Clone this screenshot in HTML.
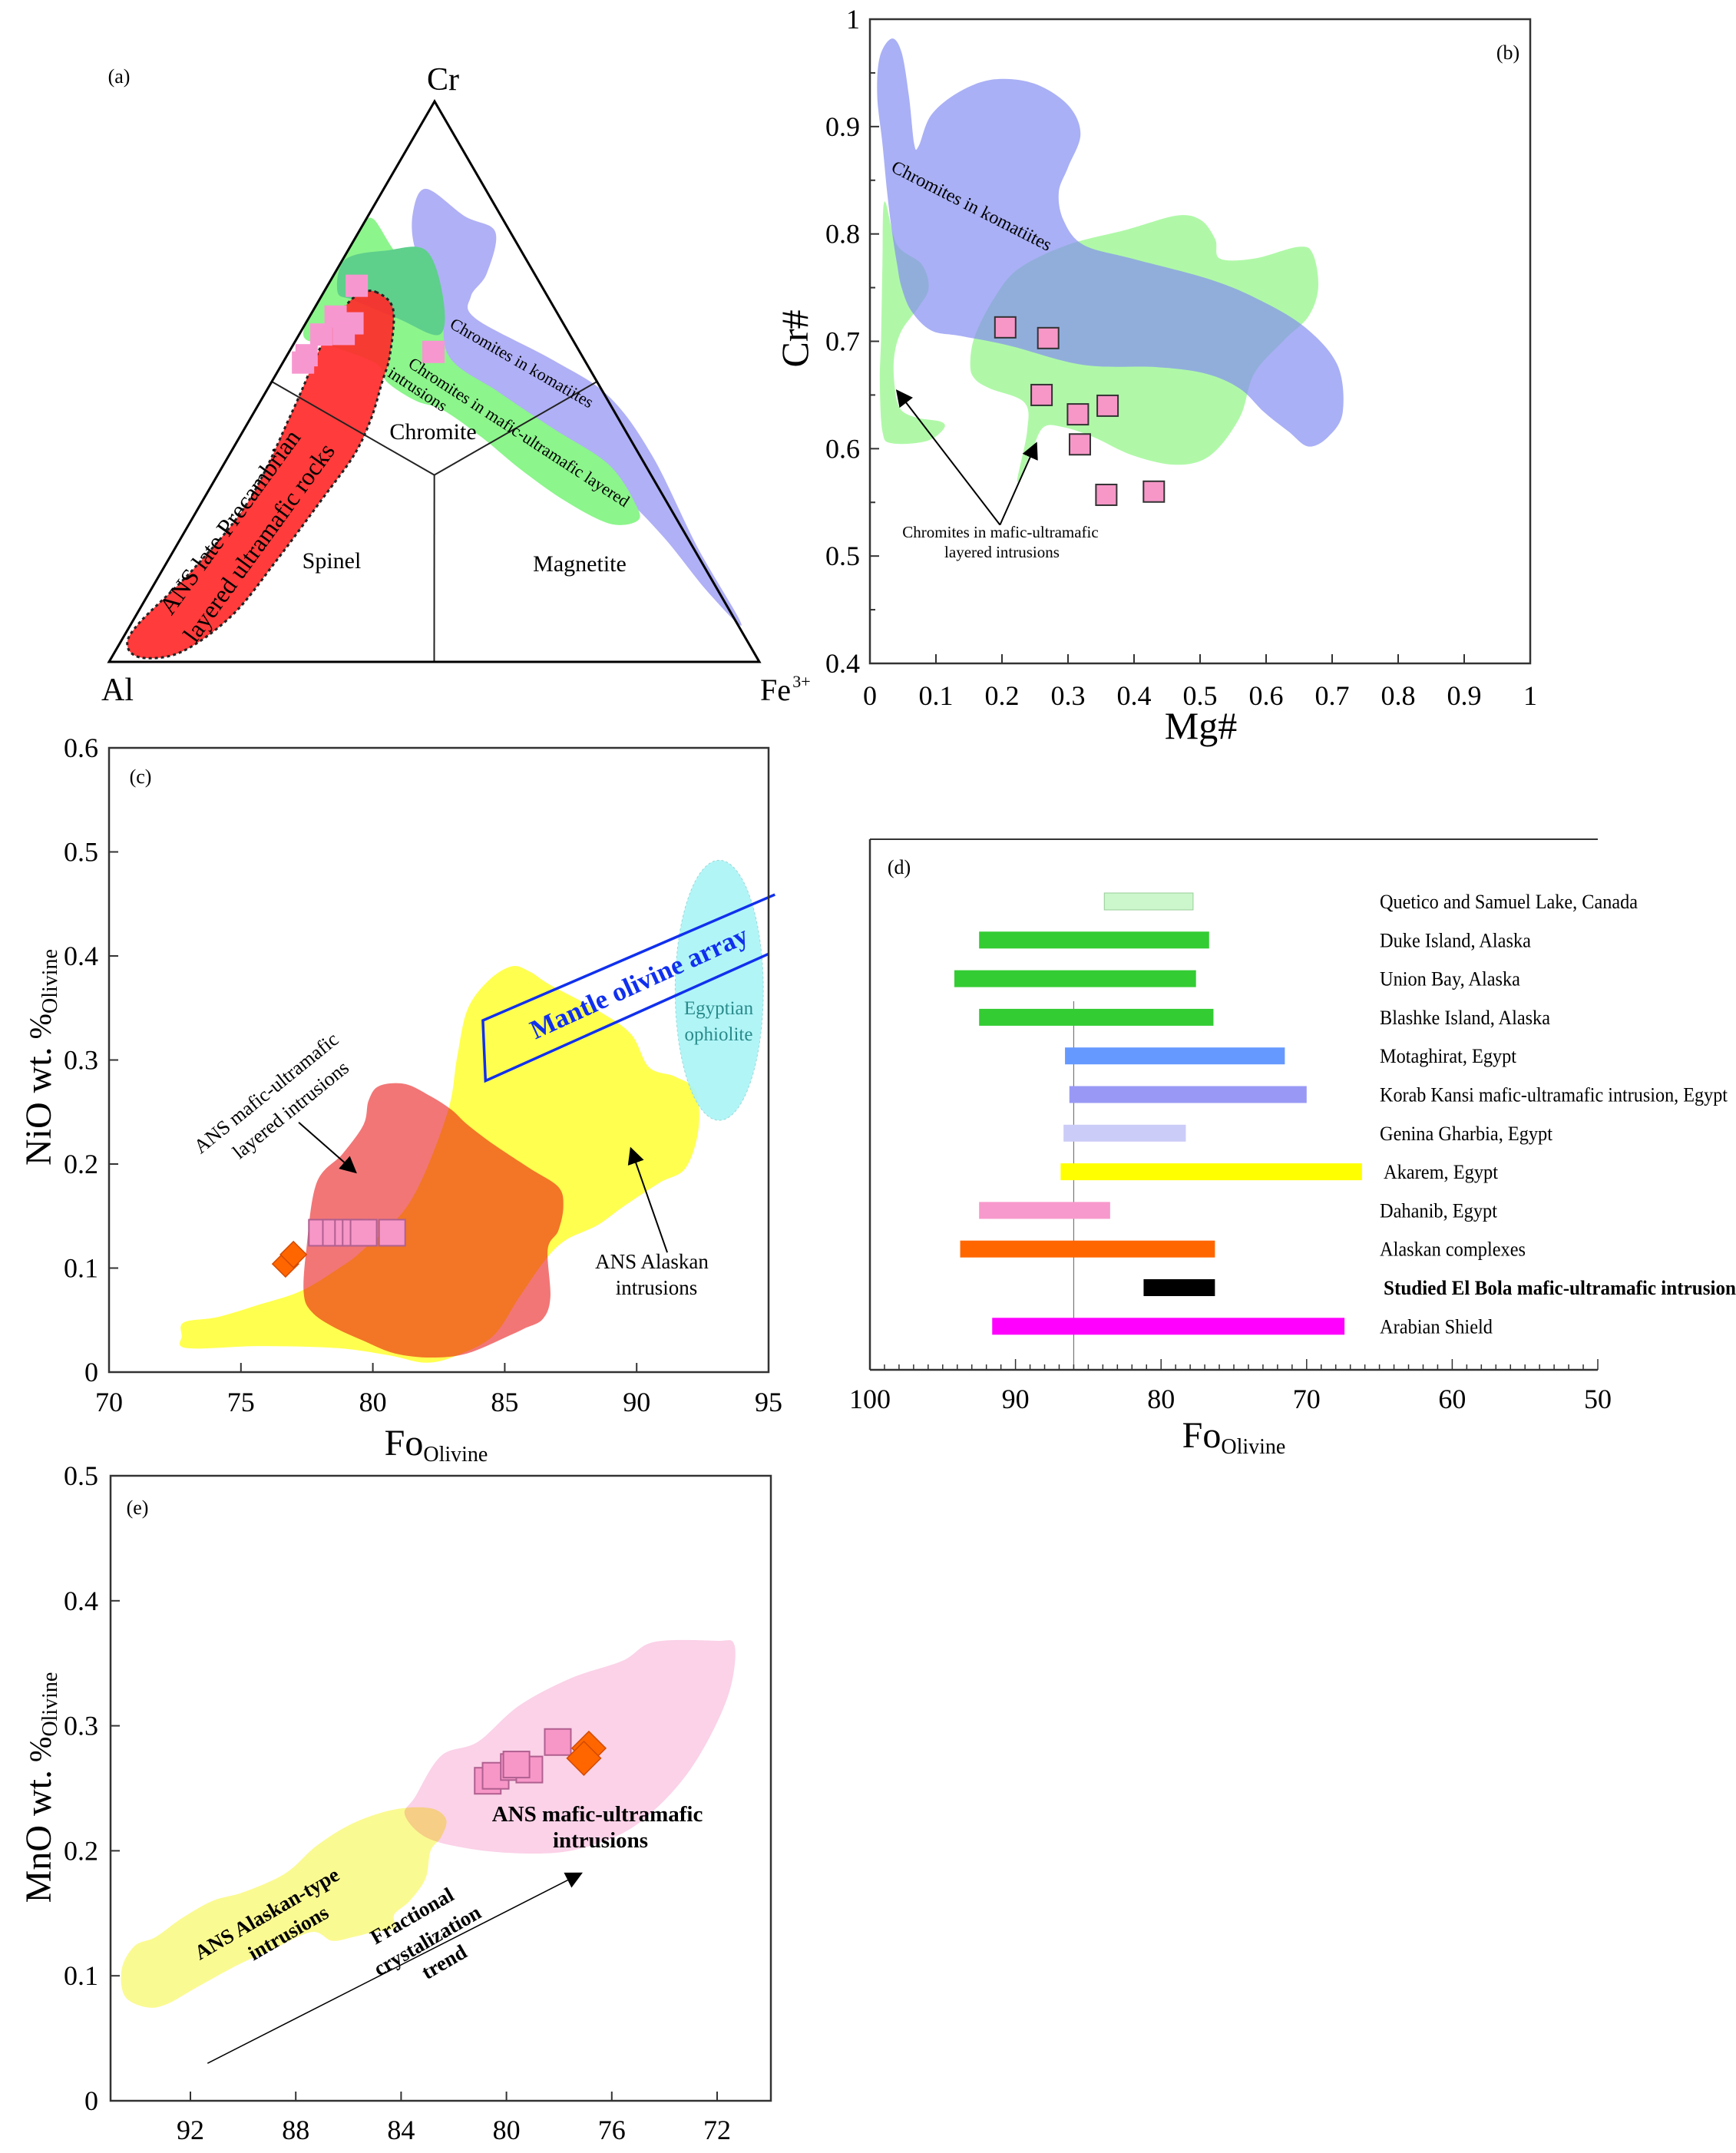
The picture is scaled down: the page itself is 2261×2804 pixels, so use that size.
<!DOCTYPE html>
<html><head><meta charset="utf-8"><style>
html,body{margin:0;padding:0;background:#fff}
svg{display:block;font-family:"Liberation Serif",serif}
</style></head><body>
<svg id="fig" xmlns="http://www.w3.org/2000/svg" width="2261" height="2804" viewBox="0 0 2261 2804"></svg>
<script>
// ===== Panel (a) ternary data: [Cr, Fe3+] fractions =====
const aSamples=[[0.671,0.045],[0.616,0.040],[0.604,0.072],[0.584,0.034],[0.585,0.068],[0.547,0.030],[0.534,0.031],[0.553,0.222]];
const aRed=[[0.660,0.080],[0.629,0.122],[0.547,0.158],[0.499,0.170],[0.433,0.186],[0.368,0.192],[0.288,0.182],[0.181,0.167],[0.084,0.148],[0.019,0.104],[0.007,0.050],[0.027,0.015],[0.067,0.011],[0.166,0.047],[0.288,0.071],[0.449,0.058],[0.563,0.044],[0.629,0.045],[0.656,0.056]];
const aGreen=[[0.790,0.011],[0.726,0.082],[0.726,0.124],[0.652,0.187],[0.547,0.248],[0.482,0.357],[0.416,0.475],[0.352,0.592],[0.279,0.671],[0.251,0.686],[0.247,0.645],[0.288,0.556],[0.344,0.460],[0.401,0.372],[0.449,0.289],[0.466,0.238],[0.499,0.178],[0.532,0.145],[0.563,0.061],[0.579,0.010],[0.629,0.0],[0.726,0.0],[0.774,0.0]];
const aDark=[[0.718,0.004],[0.734,0.060],[0.734,0.120],[0.652,0.187],[0.584,0.216],[0.612,0.139],[0.645,0.054],[0.660,0.021]];
const aBlue=[[0.844,0.065],[0.795,0.149],[0.767,0.210],[0.693,0.234],[0.652,0.230],[0.612,0.258],[0.538,0.414],[0.474,0.531],[0.368,0.651],[0.205,0.802],[0.067,0.939],[0.125,0.858],[0.222,0.742],[0.303,0.633],[0.401,0.483],[0.466,0.348],[0.523,0.260],[0.588,0.210],[0.660,0.174],[0.734,0.104],[0.799,0.067]];
// ===== Panel (b) =====
const bXTicks=[0,0.1,0.2,0.3,0.4,0.5,0.6,0.7,0.8,0.9,1];
const bYTicks=[0.4,0.5,0.6,0.7,0.8,0.9,1];
const bMg=[0.205,0.27,0.26,0.315,0.36,0.318,0.358,0.43];
const bCr=[0.713,0.703,0.650,0.632,0.640,0.604,0.557,0.560];
const bBlue=[[.015,.965],[.033,.982],[.048,.969],[.059,.929],[.067,.884],[.074,.882],[.093,.911],[.137,.933],[.189,.944],[.249,.940],[.300,.920],[.319,.893],[.300,.862],[.286,.839],[.293,.813],[.323,.790],[.397,.777],[.508,.759],[.582,.741],[.657,.714],[.708,.678],[.716,.634],[.694,.611],[.664,.602],[.634,.616],[.597,.634],[.560,.656],[.508,.670],[.434,.676],[.323,.678],[.211,.696],[.137,.705],[.093,.710],[.063,.728],[.048,.750],[.041,.772],[.033,.804],[.026,.839],[.019,.884],[.011,.929]];
const bGreenL=[[.022,.830],[.041,.790],[.078,.772],[.089,.750],[.074,.732],[.048,.710],[.037,.687],[.037,.661],[.045,.638],[.070,.629],[.108,.625],[.111,.618],[.085,.607],[.033,.605],[.019,.616],[.015,.661],[.017,.705],[.019,.772]];
const bGreenM=[[.152,.678],[.159,.705],[.189,.741],[.226,.768],[.300,.790],[.389,.804],[.464,.817],[.501,.813],[.523,.795],[.530,.777],[.582,.777],[.649,.788],[.671,.781],[.679,.750],[.664,.723],[.627,.701],[.582,.670],[.560,.629],[.516,.594],[.464,.585],[.397,.594],[.338,.611],[.293,.620],[.263,.620],[.245,.598],[.223,.569],[.238,.616],[.234,.643],[.182,.656],[.159,.665]];
// ===== Panel (c) =====
const cXTicks=[70,75,80,85,90,95];
const cYTicks=[0,0.1,0.2,0.3,0.4,0.5,0.6];
const cFo=[78.07,78.6,79.06,79.35,79.65,80.73];
const cNiO=[0.134,0.134,0.134,0.134,0.134,0.134];
const cFoD=[76.69,76.99];
const cNiOD=[0.104,0.113];
const cYellow=[[72.85,.048],[74.13,.053],[75.71,.065],[77.28,.078],[78.66,.099],[79.65,.118],[81.42,.164],[82.80,.247],[83.19,.302],[83.58,.348],[84.37,.376],[85.26,.390],[85.94,.385],[86.73,.372],[88.50,.348],[89.78,.325],[90.47,.293],[91.46,.284],[92.24,.270],[92.34,.233],[91.85,.196],[90.87,.182],[89.49,.159],[88.50,.141],[87.32,.127],[86.54,.108],[85.55,.072],[84.57,.035],[83.19,.016],[82.01,.009],[80.63,.016],[78.66,.023],[75.71,.025],[72.95,.023],[72.76,.035]];
const cRed=[[80.24,.275],[81.22,.277],[82.20,.265],[82.99,.252],[83.58,.238],[84.57,.219],[85.94,.196],[87.03,.178],[87.22,.159],[87.03,.136],[86.63,.118],[86.73,.072],[86.44,.051],[85.75,.042],[85.16,.035],[83.58,.018],[82.20,.014],[80.83,.018],[79.65,.030],[78.46,.044],[77.68,.058],[77.38,.076],[77.48,.118],[77.87,.182],[78.86,.210],[79.65,.238],[79.84,.261]];
const cEgypt=[93.13,0.367,1.67,0.125];
const cMantle=[[95.24,.459],[84.17,.338],[84.27,.280],[95.0,.402]];
// ===== Panel (d) =====
const dNames=["Quetico and Samuel Lake, Canada","Duke Island, Alaska","Union Bay, Alaska","Blashke Island, Alaska","Motaghirat, Egypt","Korab Kansi mafic-ultramafic intrusion, Egypt","Genina Gharbia, Egypt","Akarem, Egypt","Dahanib, Egypt","Alaskan complexes","Studied El Bola mafic-ultramafic intrusion","Arabian Shield"];
const dMax=[83.9,92.5,94.2,92.5,86.6,86.3,86.7,86.9,92.5,93.8,81.2,91.6];
const dMin=[77.8,76.7,77.6,76.4,71.5,70.0,78.3,66.2,83.5,76.3,76.3,67.4];
const dColors=["#ccf7cc","#33cc33","#33cc33","#33cc33","#6699ff","#9999f5","#ccccf8","#ffff00","#f799cc","#ff6600","#000000","#ff00ff"];
const dTicks=[100,90,80,70,60,50];
// ===== Panel (e) =====
const eXTicks=[92,88,84,80,76,72];
const eYTicks=[0,0.1,0.2,0.3,0.4,0.5];
const eFo=[80.71,80.41,79.72,79.13,79.62,78.05];
const eMnO=[0.256,0.260,0.267,0.265,0.269,0.287];
const eFoD=[76.87,77.06];
const eMnOD=[0.282,0.274];
const eYellow=[[94.60,.106],[94.11,.124],[93.32,.131],[92.33,.146],[91.15,.160],[89.97,.167],[88.39,.182],[87.21,.204],[85.83,.222],[84.26,.233],[82.88,.234],[82.29,.225],[82.48,.211],[82.88,.200],[83.07,.178],[83.67,.160],[84.26,.149],[84.26,.138],[85.04,.135],[85.83,.131],[86.62,.128],[87.41,.135],[88.99,.120],[90.17,.109],[91.74,.091],[92.93,.077],[93.71,.075],[94.50,.084]];
const ePink=[[83.86,.229],[83.47,.243],[82.48,.276],[81.10,.287],[79.53,.316],[77.56,.338],[75.59,.352],[74.40,.367],[72.04,.368],[71.35,.365],[71.45,.334],[72.04,.301],[73.02,.265],[74.21,.236],[75.59,.214],[77.56,.200],[79.53,.198],[81.50,.202],[83.07,.211]];

const NS="http://www.w3.org/2000/svg";
const svg=document.getElementById('fig');
function el(tag,attrs,parent){const e=document.createElementNS(NS,tag);for(const k in attrs)e.setAttribute(k,attrs[k]);(parent||svg).appendChild(e);return e;}
function smooth(pts){const n=pts.length;let d="M"+pts[0][0].toFixed(1)+","+pts[0][1].toFixed(1);
 for(let i=0;i<n;i++){const p0=pts[(i-1+n)%n],p1=pts[i],p2=pts[(i+1)%n],p3=pts[(i+2)%n];
  const c1=[p1[0]+(p2[0]-p0[0])/6,p1[1]+(p2[1]-p0[1])/6],c2=[p2[0]-(p3[0]-p1[0])/6,p2[1]-(p3[1]-p1[1])/6];
  d+="C"+c1.map(v=>v.toFixed(1))+" "+c2.map(v=>v.toFixed(1))+" "+p2.map(v=>v.toFixed(1));}
 return d+"Z";}
function txt(x,y,s,opt,name){const t=el('text',Object.assign({x:x,y:y,'font-size':36,'text-anchor':'middle',fill:'#000'},opt||{}));t.textContent=s;
 
 
 return t;}
function sq(x,y,s,fill,stroke,name){const r=el('rect',{x:x-s/2,y:y-s/2,width:s,height:s,fill:fill,stroke:stroke||'none','stroke-width':2});
 
 
 return r;}
function dia(x,y,s,name){const p=el('polygon',{points:`${x},${y-s} ${x+s},${y} ${x},${y+s} ${x-s},${y}`,fill:'#ff6600',stroke:'#d24a00','stroke-width':1.5});
 
 }
function field(pts,fill,name,extra){const p=el('path',Object.assign({d:smooth(pts),fill:fill,stroke:'none'},extra||{}));
 
 
 return p;}
function line(x1,y1,x2,y2,w,c,name){const l=el('line',{x1:x1,y1:y1,x2:x2,y2:y2,stroke:c||'#000','stroke-width':w||2});
 
 
 return l;}
el('defs',{}).innerHTML='<marker id="ah2" viewBox="0 0 10 10" refX="9" refY="5" markerWidth="22" markerHeight="22" markerUnits="userSpaceOnUse" orient="auto"><path d="M0,0L10,5L0,10z" fill="#000"/></marker>';

// ================= (a) =================
const tx=(cr,fe)=>142+fe*847+cr*424, ty=(cr)=>862-cr*730;
const tp=a=>a.map(p=>[tx(p[0],p[1]),ty(p[0])]);
field(tp(aBlue),'#b0b0f6','field-komatiites');
field(tp(aGreen),'#8cf58c','field-layered-intrusions');
field(tp(aDark),'#5fcf8c','field-overlap');
field(tp(aRed),'#ff2a2a','field-ans-precambrian',{stroke:'#222','stroke-width':3,'stroke-dasharray':'4 4','fill-opacity':0.92});
const cen=[tx(1/3,1/3),ty(1/3)];
line(tx(0.5,0),ty(0.5),cen[0],cen[1],2,'#222','divider-left');
line(tx(0.5,0.5),ty(0.5),cen[0],cen[1],2,'#222','divider-right');
line(tx(0,0.5),ty(0),cen[0],cen[1],2,'#222','divider-bottom');
const tri=el('polygon',{points:`${tx(1,0)},${ty(1)} ${tx(0,0)},${ty(0)} ${tx(0,1)},${ty(0)}`,fill:'none',stroke:'#000','stroke-width':3});


aSamples.forEach(p=>sq(tx(p[0],p[1]),ty(p[0]),29,'#f797d0',null,'sample-square-a'));
txt(155,108,'(a)',{'font-size':26},'panel-label-a');
txt(577,117,'Cr',{'font-size':42},'apex-cr');
txt(153,912,'Al',{'font-size':42},'apex-al');
txt(1010,912,'Fe',{'font-size':40},'apex-fe');
txt(1044,895,'3+',{'font-size':22},'apex-fe-sup');
txt(564,572,'Chromite',{'font-size':30},'region-chromite');
txt(432,740,'Spinel',{'font-size':30},'region-spinel');
txt(755,744,'Magnetite',{'font-size':30},'region-magnetite');
txt(676,479,'Chromites in komatiites',{'font-size':22,transform:'rotate(30 676 479)'},'komatiites-label');
txt(672,569,'Chromites in mafic-ultramafic layered',{'font-size':22,transform:'rotate(33 672 569)'},'layered-label');
txt(540,513,'intrusions',{'font-size':22,transform:'rotate(33 540 513)'},'intrusions-label');
txt(308,686,'ANS late Precambrian',{'font-size':32,transform:'rotate(-54 308 686)'},'ans-label-1');
txt(346,713,'layered ultramafic rocks',{'font-size':32,transform:'rotate(-54 346 713)'},'ans-label-2');

// ================= (b) =================
const bx=v=>1133+v*860, by=v=>864-(v-0.4)*1398.3;
field(bGreenL.map(p=>[bx(p[0]),by(p[1])]),'#b0f8a8','field-layered-left');
field(bGreenM.map(p=>[bx(p[0]),by(p[1])]),'#b0f8a8','field-layered-main');
field(bBlue.map(p=>[bx(p[0]),by(p[1])]),'#858ef1','field-komatiites-b',{'fill-opacity':0.7});
let ab=el('rect',{x:1133,y:25,width:860,height:839,fill:'none',stroke:'#333','stroke-width':2.5});


bXTicks.forEach(v=>{line(bx(v),864,bx(v),852,2,'#333','x-tick-b');txt(bx(v),918,String(v),{},'x-tick-label-b');});
bYTicks.forEach(v=>{line(1133,by(v),1145,by(v),2,'#333','y-tick-b');txt(1120,by(v)+12,String(v),{'text-anchor':'end'},'y-tick-label-b');
 if(v<1){line(1133,by(v+0.05),1140,by(v+0.05),2,'#333','y-minor-tick-b');}});
bMg.forEach((v,i)=>sq(bx(v),by(bCr[i]),27,'#f797c8','#333','sample-square-b'));
[[0.041,0.654],[0.252,0.605]].forEach(p=>{const l=line(bx(0.197),by(0.529),bx(p[0]),by(p[1]),2,'#000','arrow-b');l.setAttribute('marker-end','url(#ah2)');});
txt(1303,700,'Chromites in mafic-ultramafic',{'font-size':21},'layered-label-b');
txt(1305,726,'layered intrusions',{'font-size':21},'layered-label-b2');
txt(1262,275,'Chromites in komatiites',{'font-size':24,transform:'rotate(27 1262 275)'},'komatiites-label-b');
txt(1964,77,'(b)',{'font-size':26},'panel-label-b');
txt(1564,962,'Mg#',{'font-size':50},'x-axis-title-b');
txt(1052,441,'Cr#',{'font-size':50,transform:'rotate(-90 1052 441)'},'y-axis-title-b');

// ================= (c) =================
const cx=v=>142+(v-70)*34.36, cy=v=>1787-v*1355;
field(cYellow.map(p=>[cx(p[0]),cy(p[1])]),'#ffff50','field-alaskan-c');
field(cRed.map(p=>[cx(p[0]),cy(p[1])]),'#f27676','field-layered-c',{style:'mix-blend-mode:multiply'});
const ell=el('ellipse',{cx:cx(cEgypt[0]),cy:cy(cEgypt[1]),rx:cEgypt[2]*34.36,ry:cEgypt[3]*1355,fill:'#a8f4f6','fill-opacity':0.9,stroke:'#99d8d8','stroke-dasharray':'3 3'});


const mp=el('polyline',{points:cMantle.map(p=>cx(p[0])+','+cy(p[1])).join(' '),fill:'none',stroke:'#1030ee','stroke-width':3.5});


let ac=el('rect',{x:142,y:974,width:859,height:813,fill:'none',stroke:'#333','stroke-width':2.5});


cXTicks.forEach(v=>{line(cx(v),1787,cx(v),1775,2,'#333','x-tick-c');txt(cx(v),1838,String(v),{},'x-tick-label-c');});
cYTicks.forEach(v=>{line(142,cy(v),154,cy(v),2,'#333','y-tick-c');txt(128,cy(v)+12,String(v),{'text-anchor':'end'},'y-tick-label-c');});
cFo.forEach((v,i)=>sq(cx(v),cy(cNiO[i]),34,'#f797c8','#b06090','sample-square-c'));
cFoD.forEach((v,i)=>dia(cx(v),cy(cNiOD[i]),17,'sample-diamond-c'));
{const l=line(cx(77.19),cy(0.240),cx(79.35),cy(0.192),2,'#000','arrow-c1');l.setAttribute('marker-end','url(#ah2)');}
{const l=line(cx(91.16),cy(0.115),cx(89.78),cy(0.215),2,'#000','arrow-c2');l.setAttribute('marker-end','url(#ah2)');}
txt(837,1290,'Mantle olivine array',{'font-size':35,'font-weight':'bold',fill:'#1030ee',transform:'rotate(-24.5 837 1290)'},'mantle-array-label');
txt(936,1321,'Egyptian',{'font-size':25,fill:'#2a8a8a'},'egypt-label-1');
txt(936,1355,'ophiolite',{'font-size':25,fill:'#2a8a8a'},'egypt-label-2');
txt(352,1430,'ANS mafic-ultramafic',{'font-size':26,transform:'rotate(-39 352 1430)'},'ans-layered-label-1');
txt(384,1452,'layered intrusions',{'font-size':26,transform:'rotate(-39 384 1452)'},'ans-layered-label-2');
txt(849,1652,'ANS  Alaskan',{'font-size':27},'ans-alaskan-label-1');
txt(855,1686,'intrusions',{'font-size':27},'ans-alaskan-label-2');
txt(183,1020,'(c)',{'font-size':26},'panel-label-c');
{const t=txt(568,1895,'Fo',{'font-size':48},'x-axis-title-c');const s=el('tspan',{'font-size':28,dy:8},t);s.textContent='Olivine';}
{const t=txt(66,1377,'NiO wt.',{'font-size':48,transform:'rotate(-90 66 1377)'},'y-axis-title-c');const s=el('tspan',{'font-size':40},t);s.textContent=' %';const s2=el('tspan',{'font-size':28,dy:8},t);s2.textContent='Olivine';}

// ================= (d) =================
const dx=v=>1133+(100-v)*18.96;
const dy0=1174, dStep=50.3;
line(1133,1093,2081,1093,2,'#333','top-axis-d');
line(1133,1093,1133,1784,2.5,'#333','left-axis-d');
line(1133,1784,2081,1784,2.5,'#333','bottom-axis-d');
line(dx(86),1304,dx(86),1784,1.2,'#777','reference-line-d');
for(let v=50;v<=100;v++){line(dx(v),1784,dx(v),v%10===0?1770:1777,1.5,'#333','x-tick-d');}
dTicks.forEach(v=>txt(dx(v),1834,String(v),{},'x-tick-label-d'));
const dLab=[336,197,183,222,178,453,225,149,153,190,459,147];
dNames.forEach((n,i)=>{const y=dy0+i*dStep;
 const r=el('rect',{x:dx(dMax[i]),y:y-11,width:dx(dMin[i])-dx(dMax[i]),height:22,fill:dColors[i],stroke:i===0?'#9c9':'none'});
 
 
 const lx=(i===7||i===10)?1802:1797;
 txt(lx,y+9,n,{'font-size':26,'text-anchor':'start','font-weight':i===10?'bold':'normal',textLength:dLab[i],lengthAdjust:'spacingAndGlyphs'},'bar-label-'+i);});
txt(1171,1138,'(d)',{'font-size':26},'panel-label-d');
{const t=txt(1607,1885,'Fo',{'font-size':48},'x-axis-title-d');const s=el('tspan',{'font-size':28,dy:8},t);s.textContent='Olivine';}

// ================= (e) =================
const ex=v=>248+(92-v)*34.3, ey=v=>2736-v*1628;
field(ePink.map(p=>[ex(p[0]),ey(p[1])]),'#fbd2e8','field-ans-mafic-e');
field(eYellow.map(p=>[ex(p[0]),ey(p[1])]),'#fafa8c','field-ans-alaskan-e',{style:'mix-blend-mode:multiply','fill-opacity':0.95});
let ae=el('rect',{x:144,y:1922,width:860,height:814,fill:'none',stroke:'#333','stroke-width':2.5});


eXTicks.forEach(v=>{line(ex(v),2736,ex(v),2724,2,'#333','x-tick-e');txt(ex(v),2786,String(v),{},'x-tick-label-e');});
eYTicks.forEach(v=>{line(144,ey(v),156,ey(v),2,'#333','y-tick-e');txt(128,ey(v)+12,String(v),{'text-anchor':'end'},'y-tick-label-e');});
eFo.forEach((v,i)=>sq(ex(v),ey(eMnO[i]),34,'#f797c8','#b06090','sample-square-e'));
eFoD.forEach((v,i)=>dia(ex(v),ey(eMnOD[i]),22,'sample-diamond-e'));
{const l=line(ex(91.35),ey(0.030),ex(77.16),ey(0.182),1.5,'#000','trend-arrow');l.setAttribute('marker-end','url(#ah2)');}
txt(778,2372,'ANS mafic-ultramafic',{'font-size':29,'font-weight':'bold'},'ans-mafic-label-1');
txt(782,2406,'intrusions',{'font-size':29,'font-weight':'bold'},'ans-mafic-label-2');
txt(352,2500,'ANS Alaskan-type',{'font-size':27,'font-weight':'bold',transform:'rotate(-30 352 2500)'},'ans-alaskan-e-1');
txt(380,2525,'intrusions',{'font-size':27,'font-weight':'bold',transform:'rotate(-30 380 2525)'},'ans-alaskan-e-2');
txt(541,2503,'Fractional',{'font-size':27,'font-weight':'bold',transform:'rotate(-30 541 2503)'},'trend-label-1');
txt(561,2535,'crystalization',{'font-size':27,'font-weight':'bold',transform:'rotate(-30 561 2535)'},'trend-label-2');
txt(583,2563,'trend',{'font-size':27,'font-weight':'bold',transform:'rotate(-30 583 2563)'},'trend-label-3');
txt(179,1972,'(e)',{'font-size':26},'panel-label-e');
{const t=txt(66,2328,'MnO wt.',{'font-size':48,transform:'rotate(-90 66 2328)'},'y-axis-title-e');const s=el('tspan',{'font-size':40},t);s.textContent=' %';const s2=el('tspan',{'font-size':28,dy:8},t);s2.textContent='Olivine';}
</script>
</body></html>
